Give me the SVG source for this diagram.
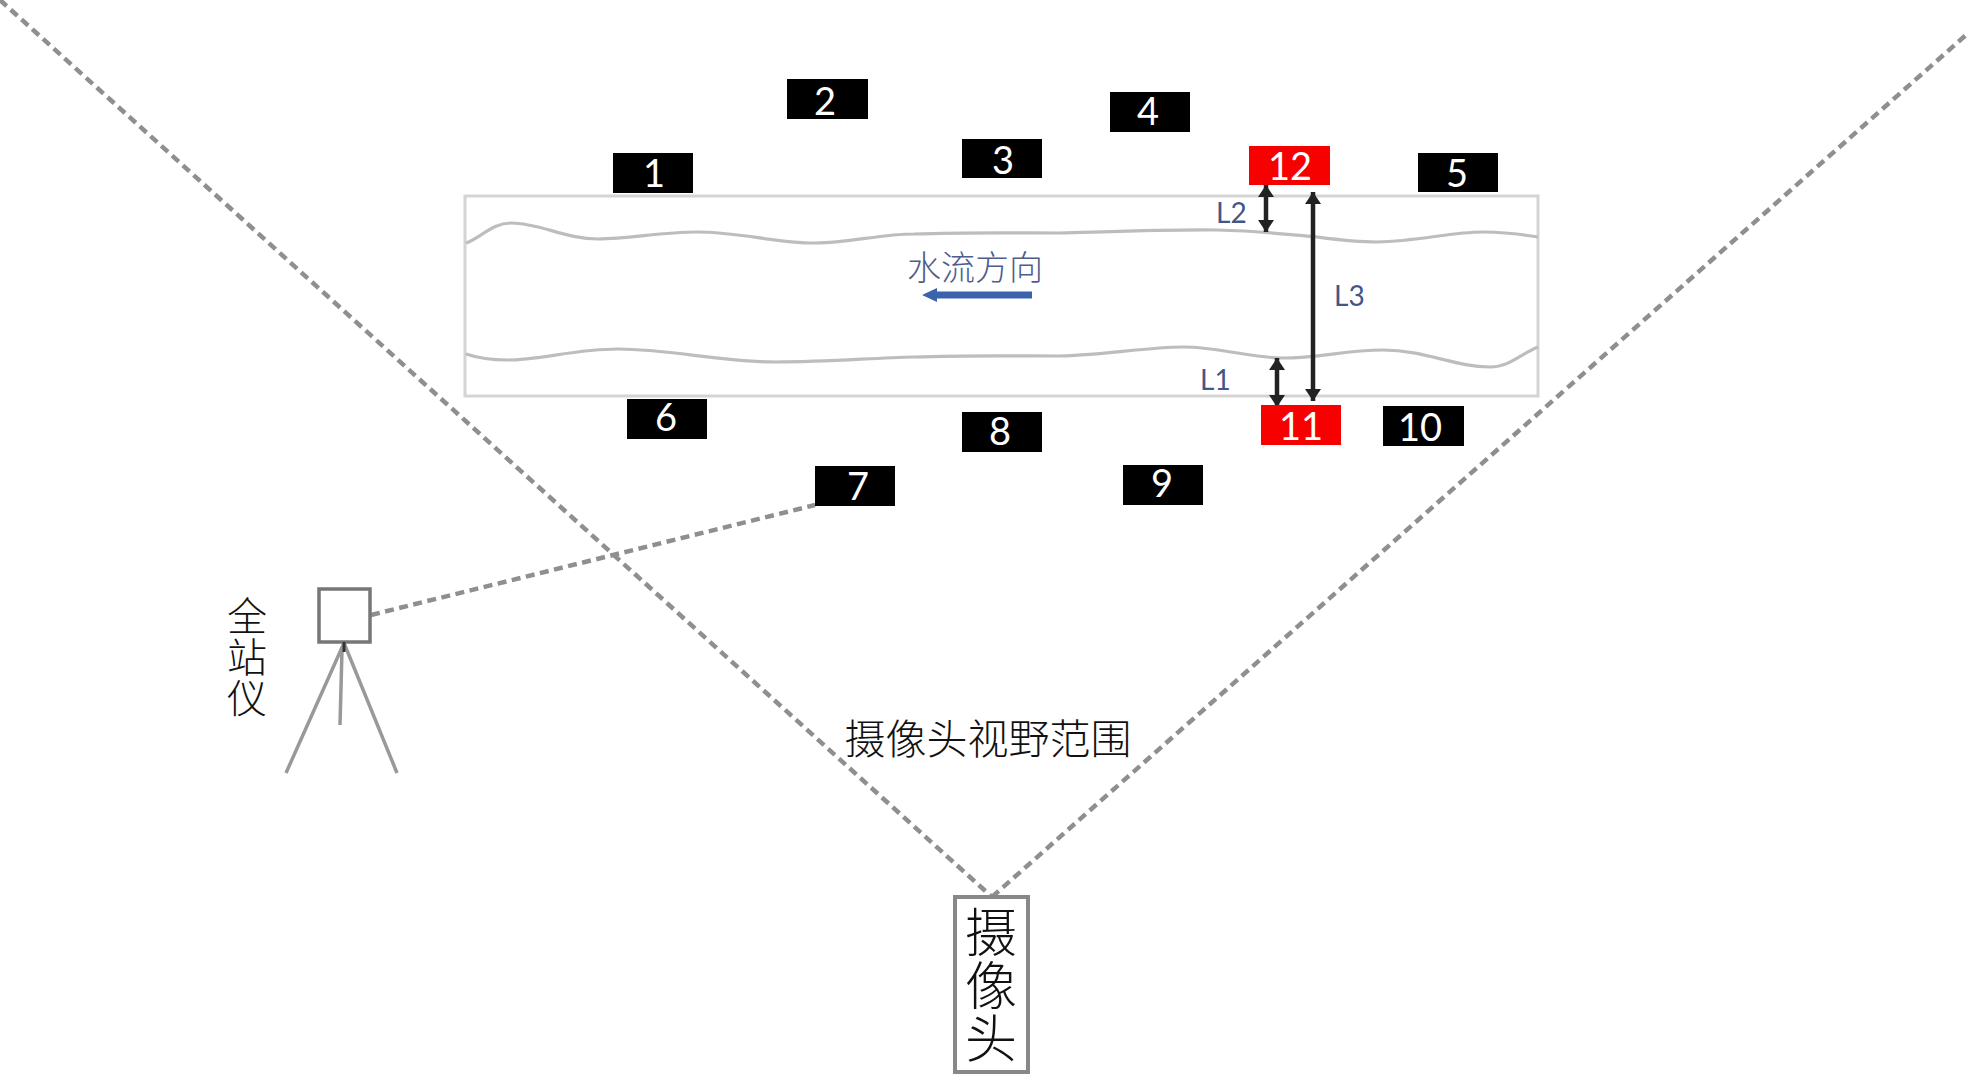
<svg xmlns="http://www.w3.org/2000/svg" width="1969" height="1076" viewBox="0 0 1969 1076">
<style>
.bk{fill:#000}
.rd{fill:#f60000}
.n{font-family:Lato,"Open Sans",sans-serif;font-size:38px;fill:#fff;text-anchor:middle}
.l{font-family:Lato,"Open Sans",sans-serif;font-size:28px;fill:#44558a}
.cn{font-family:"Noto Sans CJK SC",sans-serif;font-weight:300;fill:#111;text-anchor:middle}
.v{writing-mode:vertical-rl;letter-spacing:1px}
.dash{fill:none;stroke:#8f8f8f;stroke-width:4.5;stroke-dasharray:9 5.5}
.river{fill:none;stroke:#bdbdbd;stroke-width:3.2}
.frame{fill:#fff;stroke:#d4d4d4;stroke-width:3}
.dbl{stroke:#222;stroke-width:4.5;marker-start:url(#h);marker-end:url(#h)}
.gear{fill:#fff;stroke:#777;stroke-width:3.5}
.leg{stroke:#999;stroke-width:3.5;fill:none}
</style>
<defs>
<marker id="h" viewBox="0 0 12 16" refX="12" refY="8" markerWidth="12" markerHeight="16" markerUnits="userSpaceOnUse" orient="auto-start-reverse"><path d="M0 0L12 8L0 16z" fill="#222"/></marker>
<filter id="b" x="-5%" y="-5%" width="110%" height="110%"><feGaussianBlur stdDeviation="0.7"/></filter>
</defs>
<rect width="1969" height="1076" fill="#fff"/>
<g id="river" filter="url(#b)">
<rect class="frame" x="465" y="196" width="1073" height="200"/>
<path class="river" d="M466 243C482 237 492 223 511 223C540 223 565 239 598 239C630 239 660 232 697 232C740 232 775 243 815 243C850 243 880 234 914 234C970 232 1020 233 1060 233C1100 232 1180 229 1217 230C1260 231 1285 234 1317 237C1340 240 1355 242 1377 242C1420 241 1450 232 1483 232C1505 232 1520 234 1538 237"/>
<path class="river" d="M466 354C478 358 490 360 507 360C540 360 575 349 618 349C670 349 720 362 776 362C830 362 870 358 914 357C970 355 1020 356 1060 356C1100 355 1150 347 1183 347C1220 347 1250 358 1283 358C1320 358 1345 350 1383 350C1425 350 1455 367 1490 367C1510 367 1522 353 1538 347"/>
</g>
<g id="connectors" filter="url(#b)">
<path class="dash" d="M0 0L992 897"/>
<path class="dash" d="M992 897L1966 35"/>
<path class="dash" d="M371 615L815 505"/>
<line class="dbl" x1="1266" y1="185" x2="1266" y2="232"/>
<line class="dbl" x1="1277" y1="358" x2="1277" y2="407"/>
<line class="dbl" x1="1313" y1="192" x2="1313" y2="401"/>
<path d="M1032 295H936" stroke="#3a62ad" stroke-width="7" fill="none"/>
<path d="M922 295L937 288V302z" fill="#3a62ad"/>
</g>
<g id="n1"><rect class="bk" x="613" y="153" width="80" height="40"/><text class="n" x="654" y="187">1</text></g>
<g id="n2"><rect class="bk" x="787" y="79" width="81" height="40"/><text class="n" x="825" y="115">2</text></g>
<g id="n3"><rect class="bk" x="962" y="139" width="80" height="39"/><text class="n" x="1003" y="174">3</text></g>
<g id="n4"><rect class="bk" x="1110" y="92" width="80" height="40"/><text class="n" x="1148" y="125">4</text></g>
<g id="n5"><rect class="bk" x="1418" y="153" width="80" height="39"/><text class="n" x="1457" y="187">5</text></g>
<g id="n6"><rect class="bk" x="627" y="399" width="80" height="40"/><text class="n" x="666" y="431">6</text></g>
<g id="n7"><rect class="bk" x="815" y="466" width="80" height="40"/><text class="n" x="858" y="500">7</text></g>
<g id="n8"><rect class="bk" x="962" y="412" width="80" height="40"/><text class="n" x="1000" y="445">8</text></g>
<g id="n9"><rect class="bk" x="1123" y="465" width="80" height="40"/><text class="n" x="1162" y="497">9</text></g>
<g id="n10"><rect class="bk" x="1383" y="406" width="81" height="40"/><text class="n" x="1420" y="441">10</text></g>
<g id="n11"><rect class="rd" x="1261" y="405" width="80" height="40"/><text class="n" x="1301" y="440">11</text></g>
<g id="n12"><rect class="rd" x="1249" y="146" width="81" height="39"/><text class="n" x="1290" y="180">12</text></g>
<g id="labels">
<text class="l" x="1216" y="223">L2</text>
<text class="l" x="1200" y="390">L1</text>
<text class="l" x="1334" y="306">L3</text>
<text class="cn" x="975" y="280" style="font-size:34px;fill:#4d5d8c">水流方向</text>
<text class="cn" x="988" y="754" style="font-size:41px">摄像头视野范围</text>
</g>
<g id="total-station">
<g filter="url(#b)">
<rect class="gear" x="319" y="589" width="51" height="53"/>
<path class="leg" d="M344 643L286 773M344 643L397 773M342 650L340 725"/>
<path d="M344 642v10" stroke="#333" stroke-width="3"/>
</g>
<text class="cn v" x="247" y="657" style="font-size:40px">全站仪</text>
</g>
<g id="camera">
<rect x="955" y="897" width="73" height="175" fill="#fff" stroke="#888" stroke-width="4" filter="url(#b)"/>
<text class="cn v" x="991" y="986" style="font-size:52px">摄像头</text>
</g>
</svg>
